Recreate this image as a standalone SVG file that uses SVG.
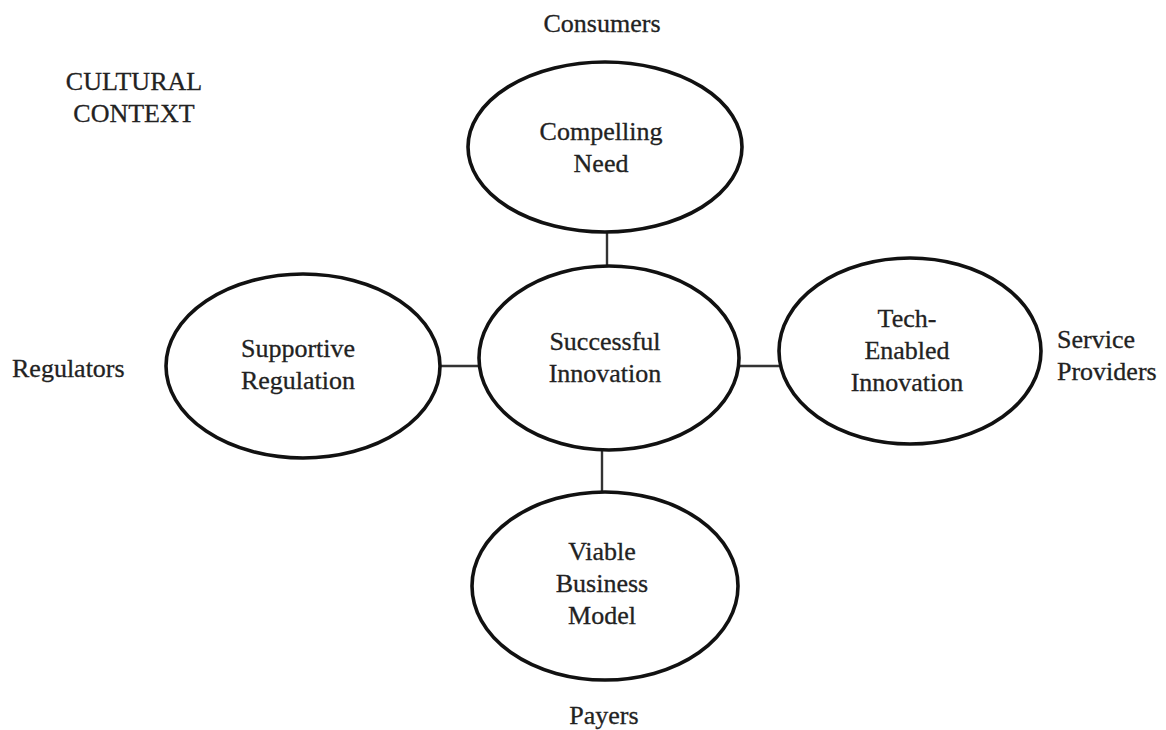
<svg xmlns="http://www.w3.org/2000/svg" width="1166" height="730" viewBox="0 0 1166 730">
<style>
.e{fill:none;stroke:#111;stroke-width:3.6}
.c{stroke:#333;stroke-width:2.4}
text{font-family:"Liberation Serif","Times New Roman",serif;font-size:26px;fill:#222;stroke:#222;stroke-width:0.3}
.m{text-anchor:middle}
</style>
<rect width="1166" height="730" fill="#fff"/>
<g id="connectors">
<line class="c" x1="607" y1="233" x2="607" y2="266"/>
<line class="c" x1="441" y1="366" x2="479" y2="366"/>
<line class="c" x1="739" y1="366" x2="780" y2="366"/>
<line class="c" x1="602" y1="450" x2="602" y2="492"/>
</g>
<g id="node-compelling">
<ellipse class="e" cx="605" cy="147" rx="137" ry="85"/>
<text class="m" x="601" y="140">Compelling</text>
<text class="m" x="601" y="172">Need</text>
</g>
<g id="node-successful">
<ellipse class="e" cx="609" cy="358" rx="130" ry="92"/>
<text class="m" x="605" y="350">Successful</text>
<text class="m" x="605" y="382">Innovation</text>
</g>
<g id="node-supportive">
<ellipse class="e" cx="303" cy="366" rx="137" ry="92"/>
<text class="m" x="298" y="357">Supportive</text>
<text class="m" x="298" y="389">Regulation</text>
</g>
<g id="node-tech">
<ellipse class="e" cx="910" cy="351" rx="131" ry="93"/>
<text class="m" x="907" y="327">Tech-</text>
<text class="m" x="907" y="359">Enabled</text>
<text class="m" x="907" y="391">Innovation</text>
</g>
<g id="node-viable">
<ellipse class="e" cx="605" cy="586" rx="133" ry="94"/>
<text class="m" x="602" y="560">Viable</text>
<text class="m" x="602" y="592">Business</text>
<text class="m" x="602" y="624">Model</text>
</g>
<g id="labels">
<text class="m" x="602" y="32">Consumers</text>
<text class="m" x="134" y="90">CULTURAL</text>
<text class="m" x="134" y="122">CONTEXT</text>
<text x="12" y="377">Regulators</text>
<text x="1057" y="348">Service</text>
<text x="1057" y="380">Providers</text>
<text class="m" x="604" y="724">Payers</text>
</g>
</svg>
